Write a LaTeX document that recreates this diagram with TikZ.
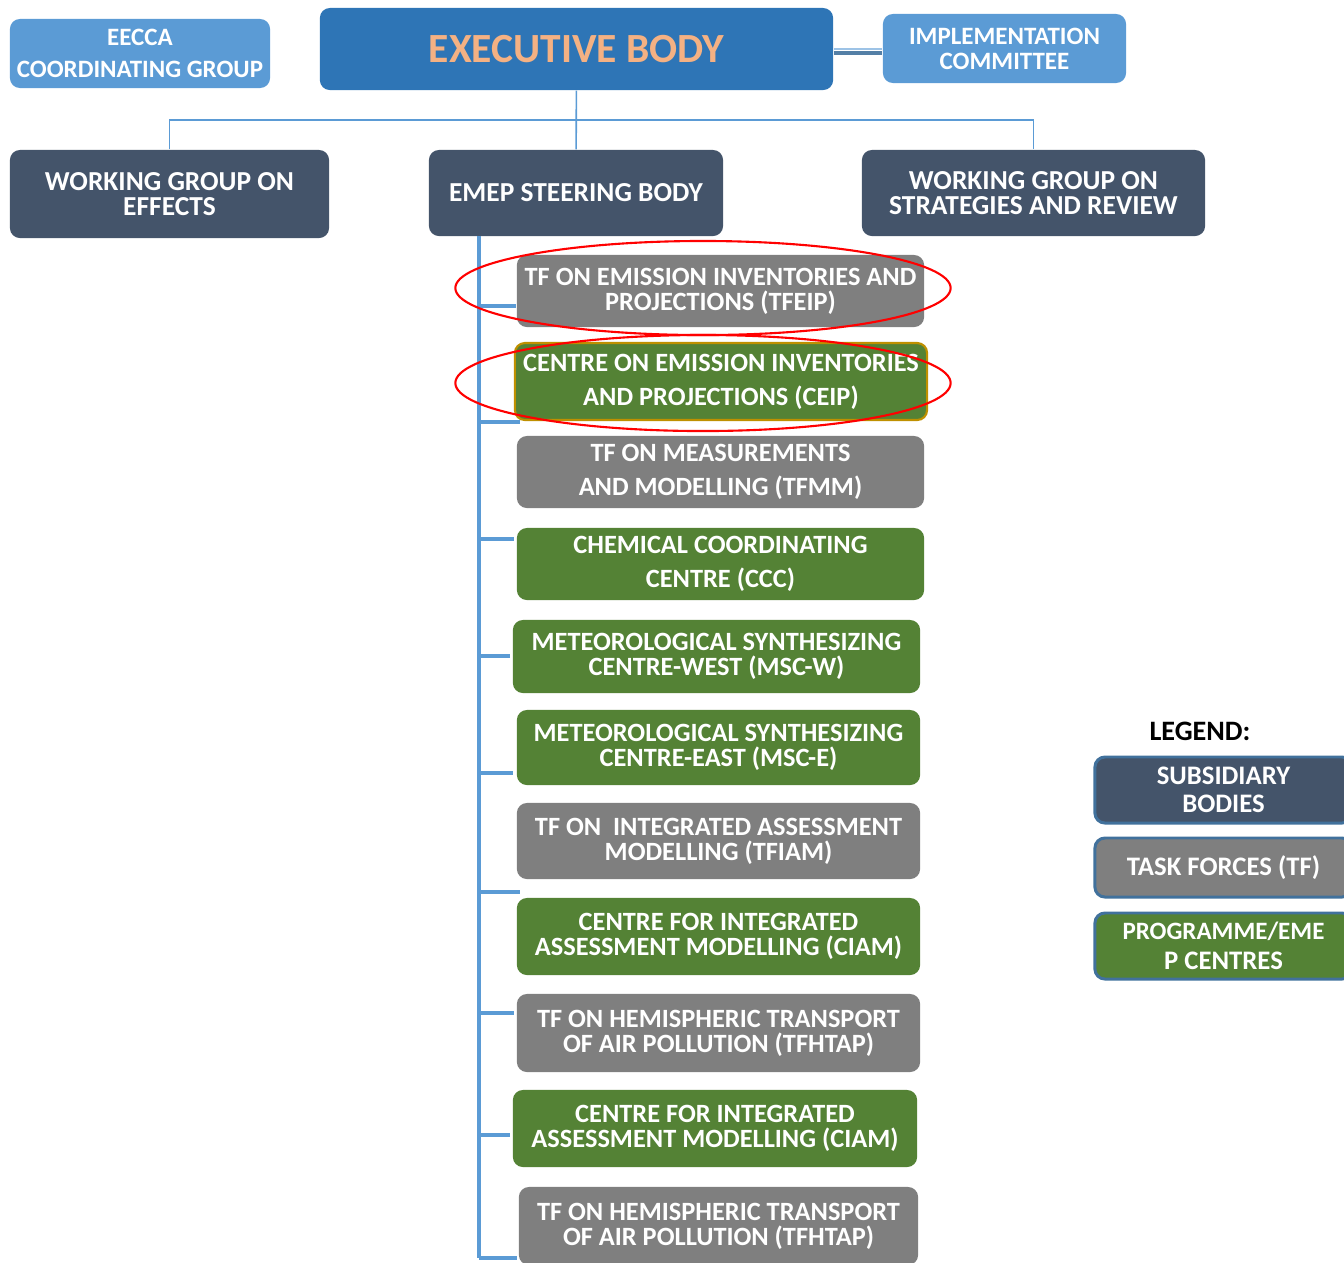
\documentclass[tikz,border=0pt]{standalone}
\usepackage{fontspec}
\setmainfont{Carlito}
\usepackage{tikz}
\usetikzlibrary{positioning}
\usetikzlibrary{arrows}
\definecolor{lightblue}{HTML}{5B9BD5}
\definecolor{execblue}{HTML}{2E75B6}
\definecolor{peach}{HTML}{F4B183}
\definecolor{slate}{HTML}{44546A}
\definecolor{tfgrey}{HTML}{7F7F7F}
\definecolor{centregreen}{HTML}{548235}
\definecolor{gold}{HTML}{BF9000}
\definecolor{legendedge}{HTML}{41719C}
\definecolor{paleline}{HTML}{9DC3E6}

\begin{document}
\begin{tikzpicture}[x=0.01cm, y=-0.01cm,
    box/.style = {rounded corners=0.1cm, text=white, align=center, inner sep=0pt,
                  font=\fontsize{7.5}{7.1}\selectfont\bfseries},
    loose/.style = {font=\fontsize{7.5}{9.7}\selectfont\bfseries},
    top/.style = {box, fill=lightblue, font=\fontsize{7.1}{7.1}\selectfont\bfseries},
    sub/.style = {box, fill=slate, font=\fontsize{7.8}{7.3}\selectfont\bfseries},
    tf/.style = {box, fill=tfgrey},
    centre/.style = {box, fill=centregreen},
    key/.style = {box, draw=legendedge, line width=0.85pt, minimum width=2.57cm,
                  font=\fontsize{7.6}{7.1}\selectfont\bfseries},
    tree/.style = {draw=lightblue, line width=0.45pt},
    trunk/.style = {draw=lightblue, line width=0.9pt},
    ring/.style = {draw=red, line width=0.6pt}]
    \useasboundingbox (0,0) rectangle (1344,1262);

    \node[top, minimum width=2.6cm, minimum height=0.69cm] (eecca) at (140,53.5) {EECCA\\[2pt]COORDINATING GROUP};
    \node[box, fill=execblue, minimum width=5.13cm, minimum height=0.82cm, text=peach,
          font=\fontsize{11.8}{14}\selectfont\bfseries] (exec) at (576.5,49) {EXECUTIVE BODY};
    \node[top, minimum width=2.43cm, minimum height=0.69cm] (impl) at (1004.5,48.5) {IMPLEMENTATION\\COMMITTEE};

    \node[sub, minimum width=3.19cm, minimum height=0.88cm] (wge) at (169.5,194) {WORKING GROUP ON\\EFFECTS};
    \node[sub, minimum width=2.94cm, minimum height=0.86cm] (emep) at (576,193) {EMEP STEERING BODY};
    \node[sub, minimum width=3.43cm, minimum height=0.86cm] (wgsr) at (1033.5,193) {WORKING GROUP ON\\STRATEGIES AND REVIEW};

    \node[tf, minimum width=4.07cm, minimum height=0.72cm] (tfeip) at (720.5,291) {TF ON EMISSION INVENTORIES AND\\PROJECTIONS (TFEIP)};
    \node[centre, loose, draw=gold, line width=0.6pt, minimum width=4.12cm, minimum height=0.77cm] (ceip) at (721,381.5) {CENTRE ON EMISSION INVENTORIES\\AND PROJECTIONS (CEIP)};
    \node[tf, loose, minimum width=4.07cm, minimum height=0.72cm] (tfmm) at (720.5,472) {TF ON MEASUREMENTS\\AND MODELLING (TFMM)};
    \node[centre, loose, minimum width=4.07cm, minimum height=0.72cm] (ccc) at (720.5,564) {CHEMICAL COORDINATING\\CENTRE (CCC)};
    \node[centre, minimum width=4.07cm, minimum height=0.73cm] (mscw) at (716.5,656.5) {METEOROLOGICAL SYNTHESIZING\\CENTRE-WEST (MSC-W)};
    \node[centre, minimum width=4.03cm, minimum height=0.75cm] (msce) at (718.5,747.5) {METEOROLOGICAL SYNTHESIZING\\CENTRE-EAST (MSC-E)};
    \node[tf, minimum width=4.03cm, minimum height=0.76cm] (tfiam) at (718.5,841) {TF ON\ \ INTEGRATED ASSESSMENT\\MODELLING (TFIAM)};
    \node[centre, minimum width=4.03cm, minimum height=0.77cm] (ciam) at (718.5,936.5) {CENTRE FOR INTEGRATED\\ASSESSMENT MODELLING (CIAM)};
    \node[tf, minimum width=4.03cm, minimum height=0.78cm] (tfhtap) at (718.5,1033) {TF ON HEMISPHERIC TRANSPORT\\OF AIR POLLUTION (TFHTAP)};
    \node[centre, minimum width=4.04cm, minimum height=0.77cm] (ciamb) at (715,1128.5) {CENTRE FOR INTEGRATED\\ASSESSMENT MODELLING (CIAM)};
    \node[tf, minimum width=3.99cm, minimum height=0.78cm] (tfhtapb) at (718.5,1226) {TF ON HEMISPHERIC TRANSPORT\\OF AIR POLLUTION (TFHTAP)};

    \node[font=\fontsize{8}{9}\selectfont\bfseries] (legend) at (1200,731) {LEGEND:};
    \node[key, fill=slate, minimum height=0.66cm] (ksub) at (1223.5,790) {SUBSIDIARY\\[1pt]BODIES};
    \node[key, fill=tfgrey, minimum height=0.59cm] (ktf) at (1223.5,867.5) {TASK FORCES (TF)};
    \node[key, fill=centregreen, minimum height=0.66cm, font=\fontsize{7.1}{7.1}\selectfont\bfseries] (kcentre) at (1223.5,946) {PROGRAMME/EME\\[1.6pt]{\fontsize{7.6}{7.1}\selectfont P CENTRES}};

    \coordinate (bar) at (576,120);
    \coordinate (root) at (479,236);
    \coordinate (foot) at (479,1258);

    \draw[tree] (exec) -- (emep);
    \draw[tree] (wge.north) |- (bar) -| (wgsr.north);
    \draw[draw=paleline, line width=0.5pt] (exec.east) -- (impl.west |- exec.east);
    \draw[draw=legendedge!90, line width=0.9pt] ([yshift=-1.15pt]exec.east) -- ([yshift=-1.15pt]impl.west |- exec.east);

    \draw[trunk] (root) -- (foot);
    \foreach \ty/\tx in {306/516, 422/520, 539/514, 656/510, 773/513, 892/520, 1013/514, 1135/510, 1258/517}
        \draw[trunk] (root |- 0,\ty) -- (\tx,\ty);

    \draw[ring] (703,288) ellipse [x radius=2.475cm, y radius=0.47cm];
    \draw[ring] (703,383) ellipse [x radius=2.475cm, y radius=0.48cm];
\end{tikzpicture}
\end{document}
